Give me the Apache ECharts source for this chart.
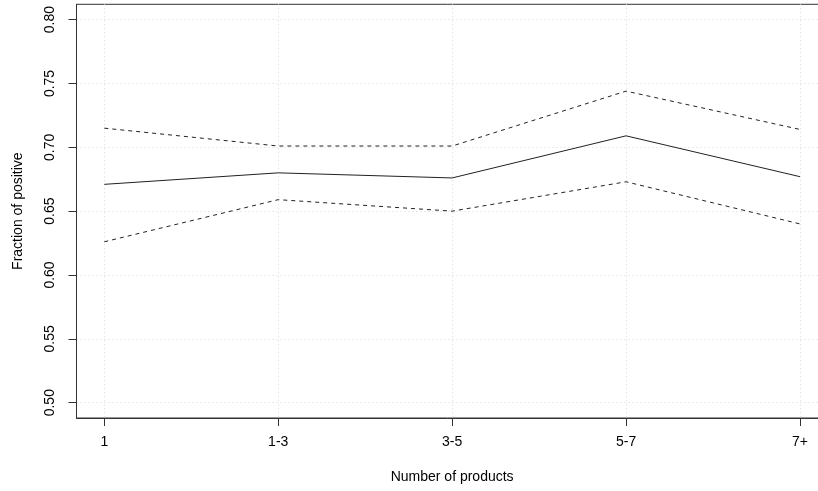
<!DOCTYPE html>
<html>
<head>
<meta charset="utf-8">
<script src="https://cdn.jsdelivr.net/npm/echarts@6/dist/echarts.min.js"></script>
<style>html,body{margin:0;padding:0;background:#fff}#c{width:818px;height:491px}</style>
</head>
<body>
<div id="c"></div>
<script>
var categories = ['1', '1-3', '3-5', '5-7', '7+'];
var meanValues = [0.671, 0.680, 0.676, 0.709, 0.677];
var upperValues = [0.715, 0.701, 0.701, 0.744, 0.714];
var lowerValues = [0.626, 0.659, 0.650, 0.673, 0.640];
var yTicks = [0.50, 0.55, 0.60, 0.65, 0.70, 0.75, 0.80];

var xPos = categories.map(function (c, i) { return i + 1; });
function pairs(vals) { return vals.map(function (v, i) { return [xPos[i], v]; }); }

var font = 'Liberation Sans, Arial, sans-serif';
var chart = echarts.init(document.getElementById('c'), null, {renderer: 'canvas'});
chart.setOption({
  animation: false,
  backgroundColor: '#fff',
  grid: {
    left: 76.5, top: 4.3, width: 751.3, height: 413.7,
    containLabel: false, outerBoundsMode: 'none',
    show: true, borderColor: '#333', borderWidth: 1, backgroundColor: 'transparent'
  },
  xAxis: {
    type: 'value', min: 0.84, max: 5.16,
    name: 'Number of products', nameLocation: 'middle', nameGap: 52,
    nameTextStyle: {fontFamily: font, fontSize: 14, color: '#000'},
    axisLine: {show: true, onZero: false, lineStyle: {color: '#333', width: 1}},
    axisTick: {show: true, length: 8, customValues: xPos, lineStyle: {color: '#333'}},
    axisLabel: {
      customValues: xPos, margin: 17, fontFamily: font, fontSize: 14, color: '#000',
      formatter: function (v) { return categories[Math.round(v) - 1] || ''; }
    },
    splitLine: {show: true, lineStyle: {color: '#d8d8d8', type: [1, 3], width: 1}}
  },
  yAxis: {
    type: 'value', min: 0.488, max: 0.812,
    name: 'Fraction of positive', nameLocation: 'middle', nameGap: 51,
    nameTextStyle: {fontFamily: font, fontSize: 14, color: '#000'},
    axisLine: {show: true, onZero: false, lineStyle: {color: '#333', width: 1}},
    axisTick: {show: true, length: 8, customValues: yTicks, lineStyle: {color: '#333'}},
    axisLabel: {
      customValues: yTicks, rotate: 90, margin: 19, fontFamily: font, fontSize: 14, color: '#000',
      formatter: function (v) { return v.toFixed(2); }
    },
    splitLine: {show: true, lineStyle: {color: '#d8d8d8', type: [1, 3], width: 1}}
  },
  series: [
    {type: 'line', data: pairs(meanValues), symbol: 'none', lineStyle: {color: '#222', width: 1, type: 'solid'}, z: 3},
    {type: 'line', data: pairs(upperValues), symbol: 'none', lineStyle: {color: '#222', width: 1, type: [4, 4]}, z: 3},
    {type: 'line', data: pairs(lowerValues), symbol: 'none', lineStyle: {color: '#222', width: 1, type: [4, 4]}, z: 3}
  ]
});
</script>
</body>
</html>
